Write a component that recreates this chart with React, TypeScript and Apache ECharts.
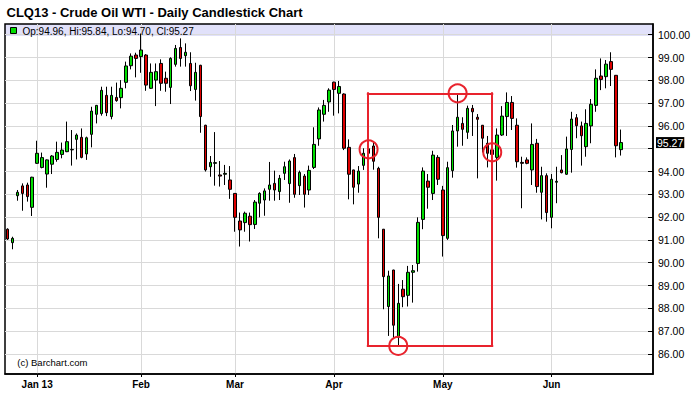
import React, { useEffect, useRef } from 'react';
import * as echarts from 'echarts';

// Daily candles, index 0 = 21 Dec 2012 ... index 124 = 21 Jun 2013
const opens = [
  91.47, 90.88, 92.94, 93.37, 93.41, 92.43, 94.36, 94.18, 93.89, 94.32,
  94.53, 94.75, 94.87, 94.95, 95.41, 95.50, 94.77, 95.63, 96.51, 96.54,
  97.34, 96.41, 97.25, 97.24, 97.91, 98.64, 99.11, 99.04, 99.11, 97.65,
  98.01, 98.74, 98.09, 97.69, 98.70, 99.44, 99.08, 98.74, 97.60, 98.66,
  96.03, 94.21, 94.36, 93.85, 93.88, 93.63, 93.04, 91.83, 91.76, 92.04,
  91.68, 92.61, 92.75, 93.22, 93.48, 93.12, 93.92, 93.47, 94.61, 93.38,
  93.80, 93.19, 94.18, 95.43, 96.51, 97.05, 97.92, 97.43, 97.40, 95.06,
  94.07, 93.45, 94.27, 94.80, 95.12, 94.14, 91.47, 88.08, 89.68, 86.73,
  88.84, 88.57, 89.58, 89.97, 91.90, 93.58, 93.04, 94.62, 93.19, 91.07,
  94.04, 95.78, 96.11, 95.72, 96.77, 96.38, 96.03, 95.24, 94.95, 94.62,
  95.60, 96.41, 97.03, 96.03, 94.40, 94.51, 94.07, 95.24, 93.09, 93.82,
  91.99, 93.53, 94.07, 93.88, 94.97, 96.36, 96.00, 95.09, 96.00, 96.90,
  98.19, 98.16, 98.82, 98.22, 94.96,
];
const closes = [
  91.04, 91.07, 93.09, 93.04, 92.90, 93.75, 94.80, 94.61, 94.51, 94.68,
  94.84, 94.94, 95.31, 94.97, 95.60, 94.62, 95.48, 96.65, 96.90, 97.56,
  96.58, 97.34, 97.11, 97.65, 98.63, 99.06, 98.96, 99.33, 97.79, 98.35,
  98.38, 97.87, 97.87, 98.96, 99.40, 98.96, 99.23, 97.76, 98.35, 96.41,
  94.07, 94.40, 94.39, 93.80, 93.92, 93.22, 91.99, 91.44, 92.17, 91.67,
  92.66, 93.04, 93.15, 93.41, 93.19, 93.70, 94.21, 94.46, 93.00, 93.96,
  93.00, 94.05, 95.19, 96.70, 96.90, 97.57, 97.60, 97.73, 95.02, 93.88,
  93.31, 94.02, 94.80, 95.00, 94.45, 91.99, 89.39, 89.42, 87.26, 88.22,
  88.51, 89.58, 89.65, 91.77, 94.02, 93.31, 94.72, 93.66, 91.19, 94.17,
  95.78, 96.38, 95.85, 96.77, 96.62, 96.29, 95.46, 94.80, 94.75, 95.60,
  96.43, 97.03, 96.33, 94.43, 94.36, 94.36, 95.19, 93.34, 93.82, 92.20,
  93.66, 93.57, 93.95, 94.99, 96.30, 96.01, 95.57, 96.11, 96.95, 98.09,
  98.04, 98.71, 98.48, 95.13, 95.27,
];
const lows = [
  91.00, 90.59, 92.72, 92.28, 92.68, 92.05, 94.33, 94.14, 93.29, 93.89,
  94.43, 94.58, 94.85, 94.26, 94.53, 94.58, 94.51, 95.06, 96.11, 96.45,
  96.43, 96.29, 97.06, 96.77, 97.65, 98.48, 98.13, 98.33, 97.54, 97.62,
  96.87, 97.54, 97.50, 96.96, 98.60, 98.60, 98.60, 97.53, 97.11, 95.70,
  94.00, 93.77, 93.38, 93.34, 93.41, 92.80, 91.36, 90.71, 91.36, 90.93,
  91.48, 91.99, 92.06, 92.72, 92.72, 92.75, 93.63, 92.63, 92.85, 92.97,
  92.42, 92.97, 94.11, 95.13, 96.19, 96.62, 96.45, 96.55, 94.94, 92.78,
  92.56, 93.07, 94.07, 94.60, 94.08, 91.07, 87.96, 86.79, 86.69, 86.35,
  88.05, 88.08, 88.25, 89.61, 91.47, 92.37, 92.75, 93.41, 90.27, 91.00,
  93.73, 95.09, 95.13, 95.43, 95.56, 93.70, 94.84, 94.18, 94.40, 93.60,
  95.56, 95.56, 95.82, 94.17, 92.39, 94.32, 93.41, 93.07, 91.90, 91.80,
  91.51, 92.61, 93.92, 93.85, 93.95, 95.46, 94.26, 94.65, 95.24, 96.62,
  97.57, 97.65, 97.75, 94.62, 94.70,
];
const highs = [
  91.51, 91.14, 93.19, 93.48, 93.51, 93.77, 95.35, 94.83, 94.53, 94.72,
  95.31, 95.27, 96.19, 95.82, 95.67, 95.89, 95.53, 96.84, 96.92, 97.72,
  97.72, 97.72, 97.90, 98.01, 98.82, 99.18, 99.21, 100.05, 99.15, 98.74,
  98.74, 98.92, 98.38, 99.01, 99.55, 99.84, 99.62, 99.23, 98.77, 98.68,
  96.05, 94.68, 95.73, 94.46, 94.29, 94.24, 93.05, 92.20, 92.24, 92.20,
  92.75, 93.09, 93.26, 94.42, 94.04, 93.85, 94.43, 94.53, 94.77, 94.04,
  93.89, 94.26, 95.94, 96.81, 97.14, 97.65, 97.94, 97.97, 97.43, 95.41,
  94.08, 94.24, 95.02, 95.05, 95.29, 94.21, 91.48, 89.65, 89.69, 89.07,
  89.24, 89.86, 89.90, 91.99, 94.18, 93.89, 94.91, 94.72, 93.37, 94.43,
  96.04, 97.43, 96.38, 96.89, 96.92, 96.52, 96.04, 95.56, 95.20, 95.89,
  96.87, 97.47, 97.31, 96.33, 94.65, 94.62, 96.11, 95.43, 94.21, 93.92,
  93.89, 94.21, 94.72, 95.53, 96.62, 96.52, 96.19, 96.73, 97.18, 98.48,
  98.96, 98.89, 99.23, 98.23, 95.84,
];

const monthTickIdx = [6, 27, 46, 66, 88, 110];
const monthTickLabels = ['Jan 13', 'Feb', 'Mar', 'Apr', 'May', 'Jun'];
const priceTicks = [86, 87, 88, 89, 90, 91, 92, 93, 94, 95, 96, 97, 98, 99, 100];
// 95.00 label is hidden behind the last-price box in the reference
const priceLabels = [86, 87, 88, 89, 90, 91, 92, 93, 94, 96, 97, 98, 99, 100];
const lastPrice = 95.27;

// annotation: box from candle index to candle index, between high of 91 and low of 79
const boxX = [72.85, 98];
const boxY = [97.43, 86.35];
const circleIdx = [73, 91, 79, 98];
const circlePrice = [94.97, 97.43, 86.35, 94.84];

const GREEN = '#00dd00';
const RED = '#dd0000';
const ANN = '#e8232d';
const GRID = '#d9d9d9';
const FONT = '"Liberation Sans", Arial, Helvetica, sans-serif';

export default function App() {
  const ref = useRef<HTMLDivElement>(null);
  useEffect(() => {
    const chart = echarts.init(ref.current!, null, { renderer: 'svg' });
    const data = opens.map((o, i) => [i, o, closes[i], lows[i], highs[i]]);
    const last = opens.length - 1;
    const legendText = `Op:${opens[last].toFixed(2)}, Hi:${highs[last].toFixed(2)}, Lo:${lows[last].toFixed(2)}, Cl:${closes[last].toFixed(2)}`;
    const boxLine = (a: number[], b: number[]) => [
      { coord: a, lineStyle: { color: ANN, width: 2, type: 'solid', cap: 'square' }, label: { show: false } },
      { coord: b },
    ];
    const option: any = {
      animation: false,
      backgroundColor: '#fff',
      textStyle: { fontFamily: FONT },
      grid: {
        left: 5, right: 40, top: 24, bottom: 22,
        show: true, borderColor: '#000', borderWidth: 1.5,
        containLabel: false, outerBoundsMode: 'none',
      },
      xAxis: {
        type: 'value', min: -0.5, max: 130.5,
        axisLine: { show: true, onZero: false, lineStyle: { color: '#000', width: 1.5 } },
        axisTick: { show: true, customValues: monthTickIdx, length: 3, lineStyle: { color: '#000' } },
        axisLabel: {
          customValues: monthTickIdx,
          formatter: (v: number) => monthTickLabels[monthTickIdx.indexOf(v)] ?? '',
          fontWeight: 'bold', fontSize: 10, color: '#000', margin: 5, fontFamily: FONT,
        },
        splitLine: { show: true, lineStyle: { color: GRID, width: 1 } },
      },
      yAxis: {
        type: 'value', position: 'right', min: 85.12, max: 100.47,
        axisLine: { show: true, onZero: false, lineStyle: { color: '#000', width: 1.5 } },
        axisTick: { show: true, inside: true, length: 5, customValues: priceTicks, lineStyle: { color: '#000' } },
        axisLabel: {
          customValues: priceLabels,
          formatter: (v: number) => v.toFixed(2),
          fontSize: 10.5, color: '#000', margin: 5, fontFamily: FONT,
        },
        splitLine: { show: true, lineStyle: { color: GRID, width: 1 } },
      },
      series: [
        {
          type: 'candlestick',
          data,
          barWidth: 3,
          itemStyle: {
            color: GREEN, color0: RED,
            borderColor: '#000', borderColor0: '#000', borderColorDoji: '#000',
            borderWidth: 1,
          },
          markLine: {
            silent: true,
            symbol: ['none', 'none'],
            animation: false,
            data: [
              boxLine([boxX[0], boxY[0]], [boxX[1], boxY[0]]),
              boxLine([boxX[0], boxY[1]], [boxX[1], boxY[1]]),
              boxLine([boxX[0], boxY[0]], [boxX[0], boxY[1]]),
              boxLine([boxX[1], boxY[0]], [boxX[1], boxY[1]]),
              {
                yAxis: lastPrice,
                lineStyle: { color: 'rgba(0,0,0,0)', width: 0, opacity: 1 },
                label: {
                  show: true, position: 'end', distance: 3,
                  formatter: lastPrice.toFixed(2),
                  color: '#fff', backgroundColor: '#000', opacity: 1,
                  fontSize: 10.5, fontFamily: FONT, padding: [1, 1, 0, 1], lineHeight: 10,
                },
              },
            ],
          },
          markPoint: {
            silent: true,
            symbol: 'circle',
            symbolSize: 18,
            animation: false,
            label: { show: false },
            itemStyle: { color: 'rgba(0,0,0,0)', borderColor: ANN, borderWidth: 2 },
            data: circleIdx.map((x, i) => ({ coord: [x, circlePrice[i]] })),
          },
        },
      ],
      graphic: [
        {
          type: 'rect', z: -1, silent: true,
          shape: { x: 5, y: 24, width: 648, height: 12 },
          style: { fill: '#e1e1fa' },
        },
        {
          type: 'rect', z: 10, silent: true,
          shape: { x: 10.5, y: 27.5, width: 6, height: 6 },
          style: { fill: GREEN, stroke: '#000', lineWidth: 1 },
        },
        {
          type: 'text', z: 10, x: 22.5, y: 31.3, silent: true,
          style: {
            text: legendText, fill: '#000', font: `10px ${FONT}`,
            verticalAlign: 'middle', textVerticalAlign: 'middle',
          },
        },
        {
          type: 'text', z: 10, x: 6.5, y: 12.2, silent: true,
          style: {
            text: 'CLQ13 - Crude Oil WTI - Daily Candlestick Chart', fill: '#000',
            font: `bold 13px ${FONT}`, verticalAlign: 'middle', textVerticalAlign: 'middle',
          },
        },
        {
          type: 'text', z: 10, x: 17.3, y: 362, silent: true,
          style: {
            text: '(c) Barchart.com', fill: '#000', font: `9.5px ${FONT}`,
            verticalAlign: 'middle', textVerticalAlign: 'middle',
          },
        },
      ],
    };
    chart.setOption(option);
    return () => chart.dispose();
  }, []);
  return (
    <div
      ref={ref}
      style={{ position: 'fixed', left: 0, top: 0, width: 693, height: 396, background: '#fff' }}
    />
  );
}
